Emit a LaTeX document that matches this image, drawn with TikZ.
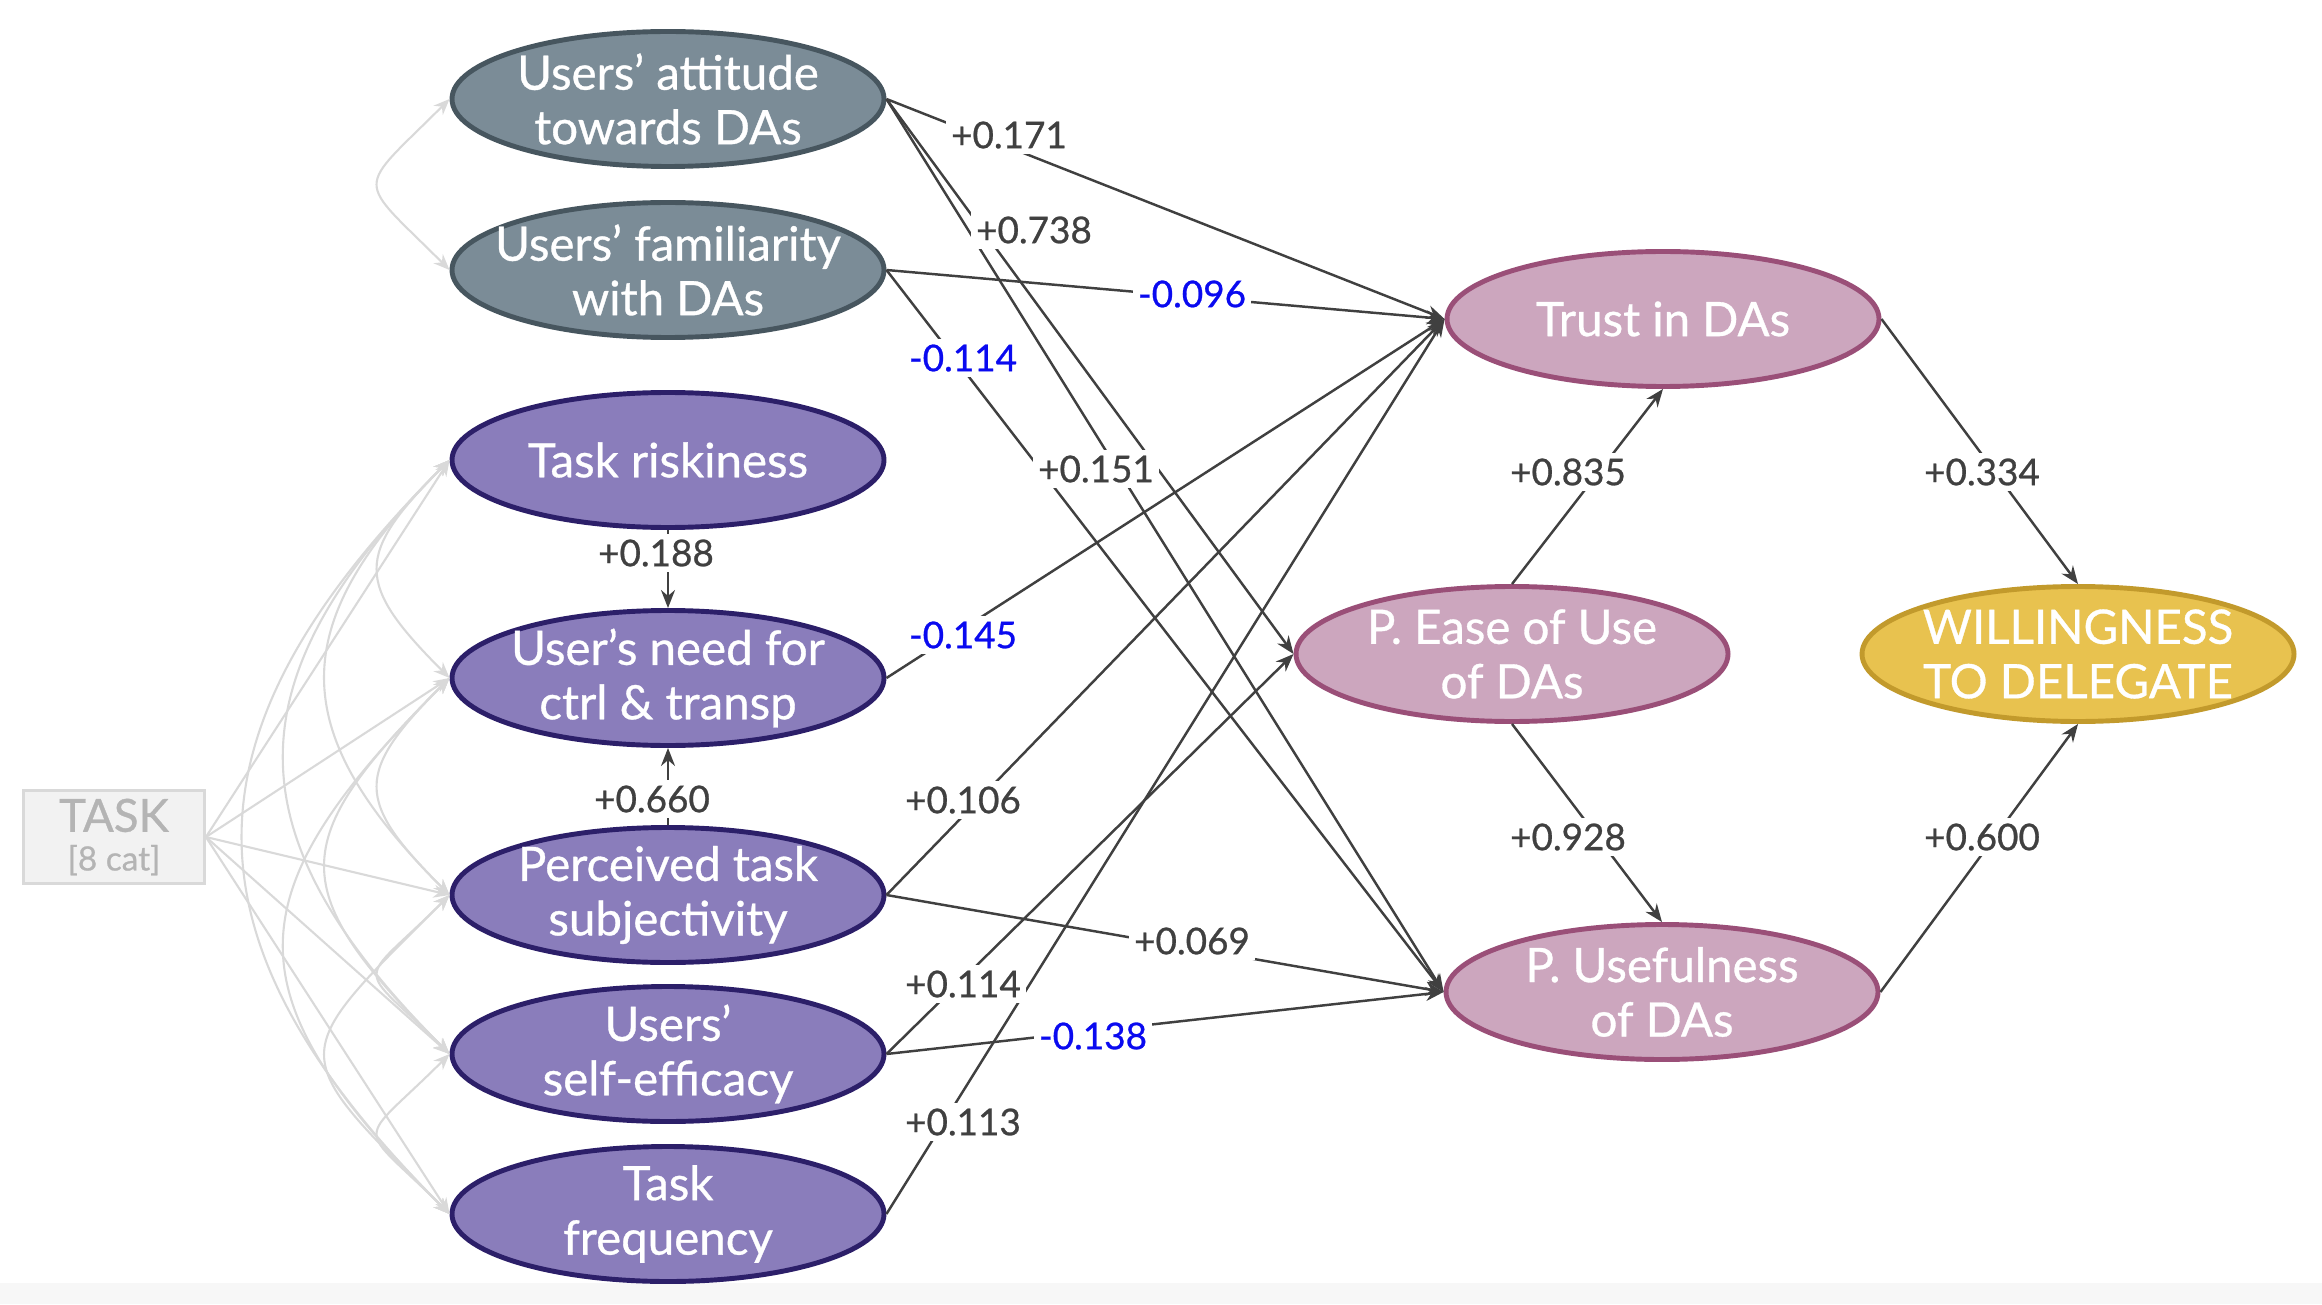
\documentclass[tikz,border=0pt]{standalone}
\usepackage{fontspec}
\setmainfont{Lato}[FakeBold=0.7]
\usetikzlibrary{arrows.meta,shapes.geometric}

\definecolor{slatefill}{HTML}{7B8C97}
\definecolor{slateline}{HTML}{47565F}
\definecolor{purplefill}{HTML}{8A7DBB}
\definecolor{purpleline}{HTML}{2C1F69}
\definecolor{pinkfill}{HTML}{CCA6BE}
\definecolor{pinkline}{HTML}{9A4F78}
\definecolor{goldfill}{HTML}{E8C24F}
\definecolor{goldline}{HTML}{C29A2C}
\definecolor{edgegray}{HTML}{404040}
\definecolor{covgray}{HTML}{D9D9D9}
\definecolor{taskgray}{HTML}{B4B4B4}
\definecolor{negblue}{HTML}{0A0AF0}

\begin{document}
\begin{tikzpicture}[
    var/.style={ellipse, minimum width=4.32cm, minimum height=1.35cm, inner sep=-3mm,
        line width=1.4pt, align=center, text=white, font=\fontsize{13.5}{15.5}\selectfont},
    grayvar/.style={var, fill=slatefill, draw=slateline},
    purplevar/.style={var, fill=purplefill, draw=purpleline},
    pinkvar/.style={var, fill=pinkfill, draw=pinkline},
    goldvar/.style={var, fill=goldfill, draw=goldline},
    causal/.style={edgegray, line width=0.7pt, -{Stealth[length=1.8mm, width=1.4mm]}},
    cov/.style={covgray, line width=0.6pt, {Stealth[length=1.6mm, width=1.3mm]}-{Stealth[length=1.6mm, width=1.3mm]}},
    coef/.style={fill=white, inner sep=1.5pt, text=edgegray, font=\fontsize{10.5}{12}\selectfont},
    negcoef/.style={coef, text=negblue}
]
    \useasboundingbox (0,0) rectangle (23.22,13.04);
    \fill[black!3] (0,0) rectangle (23.22,0.21);

    % left column
    \node[grayvar] (att) at (6.68,12.05) {Users’ attitude\\towards DAs};
    \node[grayvar] (fam) at (6.68,10.34) {Users’ familiarity\\with DAs};
    \node[purplevar] (risk) at (6.68,8.44) {Task riskiness};
    \node[purplevar] (need) at (6.68,6.26) {User’s need for\\ctrl \& transp};
    \node[purplevar] (subj) at (6.68,4.09) {Perceived task\\subjectivity};
    \node[purplevar] (self) at (6.68,2.50) {Users’\\self-efficacy};
    \node[purplevar] (freq) at (6.68,0.90) {Task\\frequency};

    % right part
    \node[pinkvar] (trust) at (16.63,9.85) {Trust in DAs};
    \node[pinkvar] (ease) at (15.12,6.50) {P. Ease of Use\\of DAs};
    \node[pinkvar] (useful) at (16.62,3.12) {P. Usefulness\\of DAs};
    \node[goldvar] (will) at (20.78,6.50) {WILLINGNESS\\TO DELEGATE};

    \node[draw=covgray, fill=black!5, line width=0.8pt, minimum width=1.81cm, minimum height=0.93cm,
        inner sep=1pt, align=center, text=taskgray, font=\fontsize{13}{13}\selectfont] (task) at (1.14,4.67)
        {TASK\\[-2pt]{\fontsize{9.5}{10}\selectfont [8 cat]}};

    % covariances and task dummies
    \foreach \a/\b/\c in {att/fam/0.95, risk/need/0.95, need/subj/0.95, subj/self/0.95, self/freq/0.95,
        risk/subj/1.65, need/self/1.65, subj/freq/1.65, risk/self/2.2, need/freq/2.2, risk/freq/2.75}
        \draw[cov] (\a.west) .. controls +(-\c,-\c) and +(-\c,\c) .. (\b.west);
    \foreach \n in {risk,need,subj,self,freq}
        \draw[cov, -{Stealth[length=1.6mm, width=1.3mm]}] (task.east) -- (\n.west);

    % paths
    \draw[causal] (att.east) -- (trust.west);
    \draw[causal] (att.east) -- (ease.west);
    \draw[causal] (att.east) -- (useful.west);
    \draw[causal] (fam.east) -- (trust.west);
    \draw[causal] (fam.east) -- (useful.west);
    \draw[causal] (risk.south) -- (need.north);
    \draw[causal] (subj.north) -- (need.south);
    \draw[causal] (need.east) -- (trust.west);
    \draw[causal] (subj.east) -- (trust.west);
    \draw[causal] (subj.east) -- (useful.west);
    \draw[causal] (self.east) -- (ease.west);
    \draw[causal] (self.east) -- (useful.west);
    \draw[causal] (freq.east) -- (trust.west);
    \draw[causal] (ease.north) -- (trust.south);
    \draw[causal] (ease.south) -- (useful.north);
    \draw[causal] (trust.east) -- (will.north);
    \draw[causal] (useful.east) -- (will.south);

    % coefficients
    \node[coef] (c171) at (10.09,11.69) {+0.171};
    \node[coef] (c738) at (10.34,10.74) {+0.738};
    \node[negcoef] (c096) at (11.92,10.10) {-0.096};
    \node[negcoef] (c114n) at (9.63,9.46) {-0.114};
    \node[coef] (c151) at (10.96,8.35) {+0.151};
    \node[coef] (c188) at (6.56,7.51) {+0.188};
    \node[negcoef] (c145) at (9.63,6.69) {-0.145};
    \node[coef] (c660) at (6.52,5.05) {+0.660};
    \node[coef] (c106) at (9.63,5.04) {+0.106};
    \node[coef] (c069) at (11.92,3.63) {+0.069};
    \node[coef] (c114) at (9.63,3.20) {+0.114};
    \node[negcoef] (c138) at (10.93,2.68) {-0.138};
    \node[coef] (c113) at (9.63,1.82) {+0.113};
    \node[coef] (c835) at (15.68,8.32) {+0.835};
    \node[coef] (c928) at (15.68,4.67) {+0.928};
    \node[coef] (c334) at (19.82,8.32) {+0.334};
    \node[coef] (c600) at (19.82,4.67) {+0.600};
\end{tikzpicture}
\end{document}
